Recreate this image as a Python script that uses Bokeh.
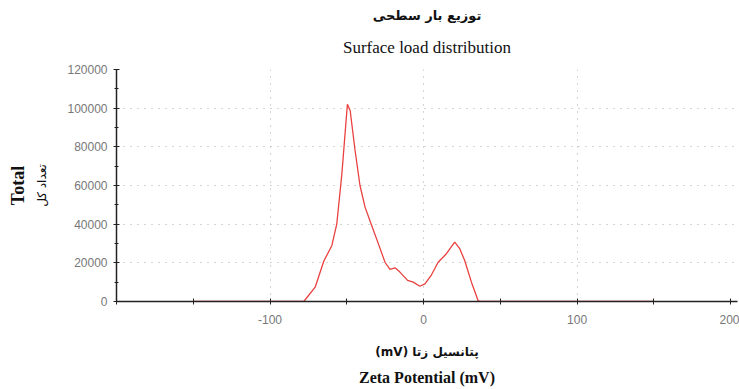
from bokeh.plotting import figure
from bokeh.models import LinearAxis, FixedTicker, Title, Range1d, BasicTickFormatter
from bokeh.embed import file_html
from bokeh.resources import INLINE

zeta = [-150, -78, -70.6, -65, -59.7, -56.5, -53.2, -49.6, -47.8, -44.6, -41.4, -38.1,
        -34.2, -29.4, -25.1, -21.9, -18.6, -15.4, -10.4, -6.7, -2.4, 0.9, 5.2, 9.5,
        14.9, 20.3, 23.6, 26.8, 31.2, 35.5, 37, 150]
counts = [0, 0, 7400, 20800, 29000, 40200, 66000, 102000, 98800, 78100, 60000, 48800,
          40200, 29800, 20300, 16600, 17400, 15200, 10900, 10000, 7900, 9100, 13800, 20300,
          24700, 30700, 27300, 21200, 10000, 500, 0, 0]

x_ticks = [-200, -150, -100, -50, 0, 50, 100, 150, 200]
x_labeled = [-100, 0, 100, 200]
y_ticks = [0, 20000, 40000, 60000, 80000, 100000, 120000]
y_minor = [10000, 30000, 50000, 70000, 90000, 110000]

title_fa = "توزیع بار سطحی"
title_en = "Surface load distribution"
xlabel_fa = "(mV) پتانسیل زتا"
xlabel_en = "Zeta Potential (mV)"
ylabel_fa = "تعداد کل"
ylabel_en = "Total"

p = figure(width=739, height=389, output_backend="svg", toolbar_location=None,
           x_range=Range1d(-200, 204.5), y_range=Range1d(0, 120000),
           min_border_left=116, min_border_right=2, min_border_top=69, min_border_bottom=88)
p.outline_line_color = None
p.background_fill_color = "white"
p.border_fill_color = "white"

# axes
xa = p.xaxis[0]
xa.ticker = FixedTicker(ticks=x_ticks)
xa.major_label_overrides = {t: ("" if t not in x_labeled else str(t)) for t in x_ticks}
xa.axis_line_color = "#222222"
xa.axis_line_width = 1.5
xa.major_tick_in = 3
xa.major_tick_out = 3
xa.major_tick_line_color = "#222222"
xa.minor_tick_line_color = None
xa.major_label_text_color = "#777777"
xa.major_label_text_font = "Liberation Sans"
xa.major_label_text_font_size = "12px"
xa.major_label_standoff = 10
xa.axis_label = xlabel_fa
xa.axis_label_text_font = "DejaVu Sans"
xa.axis_label_text_font_style = "bold"
xa.axis_label_text_font_size = "12px"
xa.axis_label_standoff = 18
xa.axis_label_text_color = "#111111"

ya = p.yaxis[0]
ya.ticker = FixedTicker(ticks=y_ticks, minor_ticks=y_minor)
ya.formatter = BasicTickFormatter(use_scientific=False)
ya.axis_line_color = "#222222"
ya.axis_line_width = 1.5
ya.major_tick_in = 3
ya.major_tick_out = 3
ya.minor_tick_in = 2
ya.minor_tick_out = 2
ya.major_tick_line_color = "#222222"
ya.minor_tick_line_color = "#222222"
ya.major_label_text_color = "#777777"
ya.major_label_text_font = "Liberation Sans"
ya.major_label_text_font_size = "12px"
ya.major_label_standoff = 6
ya.axis_label = ylabel_fa
ya.axis_label_text_font = "DejaVu Sans"
ya.axis_label_text_font_style = "normal"
ya.axis_label_text_font_size = "12px"
ya.axis_label_standoff = 15
ya.axis_label_text_color = "#111111"

# outer axis labels
xa2 = LinearAxis(ticker=FixedTicker(ticks=[]), axis_line_color=None,
                 major_tick_line_color=None, minor_tick_line_color=None,
                 major_label_text_font_size="0px",
                 axis_label=xlabel_en, axis_label_text_font="Liberation Serif",
                 axis_label_text_font_style="bold", axis_label_text_font_size="16px",
                 axis_label_standoff=7, axis_label_text_color="#111111")
p.add_layout(xa2, "below")
ya2 = LinearAxis(ticker=FixedTicker(ticks=[]), axis_line_color=None,
                 major_tick_line_color=None, minor_tick_line_color=None,
                 major_label_text_font_size="0px",
                 axis_label=ylabel_en, axis_label_text_font="Liberation Serif",
                 axis_label_text_font_style="bold", axis_label_text_font_size="18px",
                 axis_label_standoff=5, axis_label_text_color="#111111")
p.add_layout(ya2, "left")

# grids
p.xgrid.ticker = FixedTicker(ticks=[-100, 0, 100])
p.xgrid.grid_line_color = "#aaaaaa"
p.xgrid.grid_line_dash = "1 6"
p.ygrid.ticker = FixedTicker(ticks=y_ticks[1:])
p.ygrid.grid_line_color = "#aaaaaa"
p.ygrid.grid_line_dash = "1 6"

# titles
p.add_layout(Title(text=title_en, align="center", text_font="Liberation Serif",
                   text_font_size="17px", text_font_style="normal", text_color="#111111",
                   standoff=25), "above")
p.add_layout(Title(text=title_fa, align="center", text_font="DejaVu Sans",
                   text_font_size="13px", text_font_style="bold", text_color="#111111",
                   standoff=2), "above")

p.line(zeta, counts, line_color="#e8413f", line_width=1.3)

open("out.html", "w").write(file_html(p, INLINE))
